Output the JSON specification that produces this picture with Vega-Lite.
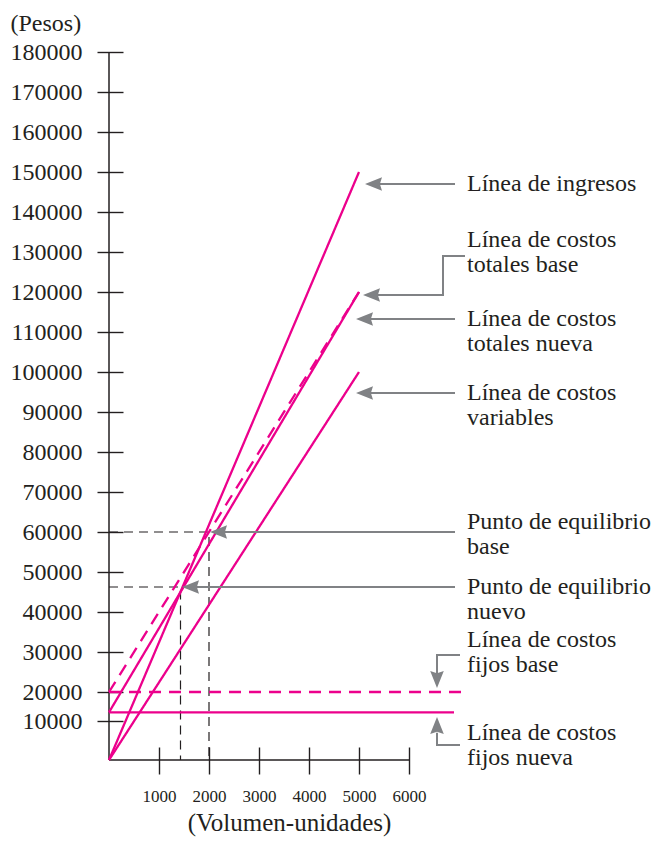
{
  "$schema": "https://vega.github.io/schema/vega-lite/v6.json",
  "width": 545,
  "height": 708,
  "autosize": {"type": "none"},
  "padding": {"left": 109, "top": 52, "right": 0, "bottom": 82},
  "background": "white",
  "config": {"view": {"stroke": null}, "font": "Liberation Serif"},
  "encoding": {
    "x": {
      "field": "x", "type": "quantitative",
      "scale": {"domain": [0, 10900], "nice": false, "zero": false},
      "axis": {
        "values": [1000, 2000, 3000, 4000, 5000, 6000], "format": "d",
        "domain": false, "grid": false, "offset": -13, "tickSize": 27, "tickWidth": 1.4,
        "tickColor": "#231f20", "labelFont": "Liberation Serif", "labelFontSize": 17,
        "labelColor": "#231f20", "labelPadding": 14, "labelFlush": false, "labelOverlap": false,
        "title": "(Volumen-unidades)", "titleFont": "Liberation Serif", "titleFontSize": 25,
        "titleFontWeight": "normal", "titleColor": "#231f20", "titleX": 180, "titleY": 75,
        "titleAlign": "center", "titleBaseline": "middle"
      }
    },
    "y": {
      "field": "y", "type": "quantitative",
      "scale": {"domain": [0, 10000, 20000, 180000], "range": [708, 669, 640, 0], "nice": false, "zero": false},
      "axis": {
        "values": [10000, 20000, 30000, 40000, 50000, 60000, 70000, 80000, 90000, 100000, 110000, 120000, 130000, 140000, 150000, 160000, 170000, 180000],
        "format": "d", "domain": false, "grid": false, "offset": -14, "tickSize": 26, "tickWidth": 1.4,
        "tickColor": "#231f20", "labelFont": "Liberation Serif", "labelFontSize": 24,
        "labelColor": "#231f20", "labelPadding": 15, "labelFlush": false, "labelOverlap": false,
        "title": "(Pesos)", "titleAngle": 0, "titleAlign": "left", "titleBaseline": "middle",
        "titleX": -113, "titleY": -29, "titleFont": "Liberation Serif", "titleFontSize": 24,
        "titleFontWeight": "normal", "titleColor": "#231f20"
      }
    }
  },
  "layer": [
    {
      "data": {"values": [
        {"eje": "x", "x": 0, "y": 0, "x2": 6000, "y2": 0},
        {"eje": "y", "x": 0, "y": 0, "x2": 0, "y2": 180000}
      ]},
      "mark": {"type": "rule", "color": "#231f20", "strokeWidth": 1.5},
      "encoding": {"x2": {"field": "x2"}, "y2": {"field": "y2"}}
    },
    {
      "data": {"values": [
        {"serie": "PE base", "i": 0, "x": 0, "y": 60000},
        {"serie": "PE base", "i": 1, "x": 2000, "y": 60000},
        {"serie": "PE base", "i": 2, "x": 2000, "y": 0},
        {"serie": "PE nuevo", "i": 0, "x": 0, "y": 46250},
        {"serie": "PE nuevo", "i": 1, "x": 1430, "y": 46250},
        {"serie": "PE nuevo", "i": 2, "x": 1430, "y": 0}
      ]},
      "mark": {"type": "line", "color": "#231f20", "strokeWidth": 1.2, "strokeDash": [9, 6]},
      "encoding": {"detail": {"field": "serie"}, "order": {"field": "i"}}
    },
    {
      "data": {"values": [
        {"serie": "Ingresos", "estilo": "continua", "x": 0, "y": 0},
        {"serie": "Ingresos", "estilo": "continua", "x": 5000, "y": 150000},
        {"serie": "Costos variables", "estilo": "continua", "x": 0, "y": 0},
        {"serie": "Costos variables", "estilo": "continua", "x": 5000, "y": 100000},
        {"serie": "Costos totales nueva", "estilo": "continua", "x": 0, "y": 13000},
        {"serie": "Costos totales nueva", "estilo": "continua", "x": 5000, "y": 120000},
        {"serie": "Costos totales base", "estilo": "discontinua", "x": 0, "y": 20000},
        {"serie": "Costos totales base", "estilo": "discontinua", "x": 5000, "y": 120000},
        {"serie": "Costos fijos base", "estilo": "discontinua", "x": 0, "y": 20000},
        {"serie": "Costos fijos base", "estilo": "discontinua", "x": 7080, "y": 20000},
        {"serie": "Costos fijos nueva", "estilo": "continua", "x": 0, "y": 13000},
        {"serie": "Costos fijos nueva", "estilo": "continua", "x": 6900, "y": 13000}
      ]},
      "mark": {"type": "line", "color": "#ec008c", "strokeWidth": 2.3},
      "encoding": {
        "detail": {"field": "serie"},
        "strokeDash": {"field": "estilo", "type": "nominal", "scale": {"domain": ["continua", "discontinua"], "range": [[1, 0], [12, 8]]}, "legend": null}
      }
    },
    {
      "data": {"values": [
        {"flecha": "a1", "i": 0, "x": 6920, "y": 147000},
        {"flecha": "a1", "i": 1, "x": 5400, "y": 147000},
        {"flecha": "a2", "i": 0, "x": 7120, "y": 129000},
        {"flecha": "a2", "i": 1, "x": 6680, "y": 129000},
        {"flecha": "a2", "i": 2, "x": 6680, "y": 119250},
        {"flecha": "a2", "i": 3, "x": 5360, "y": 119250},
        {"flecha": "a3", "i": 0, "x": 6920, "y": 113250},
        {"flecha": "a3", "i": 1, "x": 5220, "y": 113250},
        {"flecha": "a4", "i": 0, "x": 6920, "y": 94750},
        {"flecha": "a4", "i": 1, "x": 5220, "y": 94750},
        {"flecha": "a5", "i": 0, "x": 6920, "y": 60000},
        {"flecha": "a5", "i": 1, "x": 2300, "y": 60000},
        {"flecha": "a6", "i": 0, "x": 6920, "y": 46250},
        {"flecha": "a6", "i": 1, "x": 1740, "y": 46250},
        {"flecha": "a7", "i": 0, "x": 7020, "y": 29250},
        {"flecha": "a7", "i": 1, "x": 6560, "y": 29250},
        {"flecha": "a7", "i": 2, "x": 6560, "y": 24500},
        {"flecha": "a8", "i": 0, "x": 7020, "y": 3850},
        {"flecha": "a8", "i": 1, "x": 6560, "y": 3850},
        {"flecha": "a8", "i": 2, "x": 6560, "y": 7000}
      ]},
      "mark": {"type": "line", "color": "#808285", "strokeWidth": 2, "strokeJoin": "miter"},
      "encoding": {"detail": {"field": "flecha"}, "order": {"field": "i"}}
    },
    {
      "data": {"values": [
        {"dir": "izquierda", "x": 5120, "y": 147000},
        {"dir": "izquierda", "x": 5080, "y": 119250},
        {"dir": "izquierda", "x": 4940, "y": 113250},
        {"dir": "izquierda", "x": 4940, "y": 94750},
        {"dir": "izquierda", "x": 2020, "y": 60000},
        {"dir": "izquierda", "x": 1460, "y": 46250},
        {"dir": "abajo", "x": 6560, "y": 21000},
        {"dir": "arriba", "x": 6560, "y": 11380}
      ]},
      "mark": {"type": "point", "filled": true, "opacity": 1, "color": "#808285", "size": 289, "strokeWidth": 0},
      "encoding": {
        "shape": {"field": "dir", "type": "nominal", "legend": null,
          "scale": {"domain": ["izquierda", "abajo", "arriba"],
            "range": ["M0,0L2,-0.8L1.75,0L2,0.8Z", "M0,0L-0.8,-2L0,-1.75L0.8,-2Z", "M0,0L-0.8,2L0,1.75L0.8,2Z"]}}
      }
    },
    {
      "data": {"values": [
        {"etiqueta": "Línea de ingresos", "x": 7160, "y": 147000},
        {"etiqueta": "Línea de costos\ntotales base", "x": 7160, "y": 133050},
        {"etiqueta": "Línea de costos\ntotales nueva", "x": 7160, "y": 113375},
        {"etiqueta": "Línea de costos\nvariables", "x": 7160, "y": 94800},
        {"etiqueta": "Punto de equilibrio\nbase", "x": 7160, "y": 62450},
        {"etiqueta": "Punto de equilibrio\nnuevo", "x": 7160, "y": 46200},
        {"etiqueta": "Línea de costos\nfijos base", "x": 7160, "y": 33075},
        {"etiqueta": "Línea de costos\nfijos nueva", "x": 7160, "y": 7050}
      ]},
      "mark": {"type": "text", "align": "left", "baseline": "middle", "font": "Liberation Serif", "fontSize": 24, "lineBreak": "\n", "lineHeight": 25, "color": "#231f20"},
      "encoding": {"text": {"field": "etiqueta"}}
    }
  ]
}
